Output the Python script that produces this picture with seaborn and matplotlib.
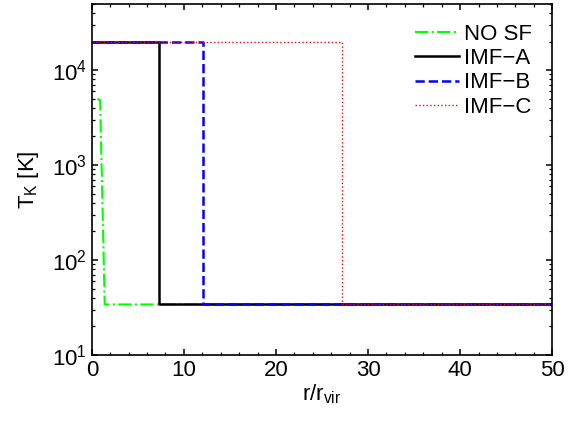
"""Temperature profiles"""
import seaborn as sns
import matplotlib.pyplot as plt
import pandas as pd
from matplotlib.ticker import MultipleLocator, LogLocator

# data
r_nosf = [0.6, 0.9, 1.4, 50]
t_nosf = [5000, 4800, 34, 34]
r_imfa = [0, 7.3, 7.3, 50]
t_imfa = [2e4, 2e4, 34, 34]
r_imfb = [0, 12.1, 12.1, 50]
t_imfb = [2e4, 2e4, 34, 34]
r_imfc = [0, 27.2, 27.2, 50]
t_imfc = [2e4, 2e4, 34, 34]

labels = ['NO SF', 'IMF\u2212A', 'IMF\u2212B', 'IMF\u2212C']
colors = ['#00ff00', 'black', '#0000ff', '#ff0000']
styles = ['-.', '-', '--', ':']
widths = [1.5, 1.8, 1.8, 1.0]


def main():
    plt.rcParams['font.family'] = ['Liberation Sans', 'DejaVu Sans']
    plt.rcParams['font.size'] = 16
    plt.rcParams['mathtext.fontset'] = 'custom'
    plt.rcParams['mathtext.rm'] = 'Liberation Sans'
    plt.rcParams['mathtext.it'] = 'Liberation Sans'

    fig = plt.figure(figsize=(5.74, 4.22), dpi=100)
    ax = fig.add_axes([0.160, 0.159, 0.802, 0.832])

    series = [(r_nosf, t_nosf), (r_imfa, t_imfa), (r_imfb, t_imfb), (r_imfc, t_imfc)]
    for (r, t), lab, c, ls, lw in zip(series, labels, colors, styles, widths):
        df = pd.DataFrame({'r': r, 'T': t})
        sns.lineplot(data=df, x='r', y='T', ax=ax, color=c, linestyle=ls,
                     linewidth=lw, label=lab, estimator=None, sort=False)

    ax.set_yscale('log')
    ax.set_xlim(0, 50)
    ax.set_ylim(10, 5e4)
    ax.xaxis.set_major_locator(MultipleLocator(10))
    ax.xaxis.set_minor_locator(MultipleLocator(2))
    ax.yaxis.set_minor_locator(LogLocator(base=10, subs=range(2, 10), numticks=20))
    ax.tick_params(which='both', direction='in', top=True, right=True,
                   labelsize=16, color='black')
    ax.tick_params(which='major', length=4.5, width=1.1)
    ax.tick_params(which='minor', length=2.5, width=0.9)
    for s in ax.spines.values():
        s.set_linewidth(1.2)
        s.set_color('black')

    ax.set_xlabel(r'$\mathregular{r/r_{vir}}$', fontsize=16, labelpad=1)
    ax.set_ylabel(r'$\mathregular{T_K}$ [K]', fontsize=16, labelpad=8)

    ax.legend(loc='upper right', frameon=False, fontsize=16, handlelength=1.95,
              handletextpad=0.25, labelspacing=0.15, borderaxespad=0.5)

    fig.savefig('out.png', dpi=100)


if __name__ == "__main__":
    main()
